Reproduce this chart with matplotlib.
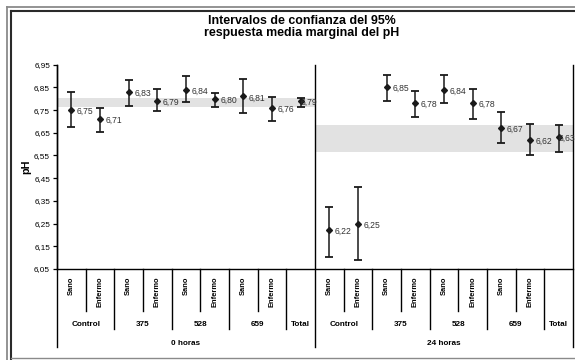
import matplotlib
matplotlib.use("Agg")
import matplotlib.pyplot as plt
from matplotlib.lines import Line2D
from matplotlib.transforms import blended_transform_factory

plt.rcParams['font.family'] = ['Liberation Sans', 'DejaVu Sans']

# data (means and 95% CI limits)
periods = ["0 horas", "24 horas"]
doses = ["Control", "375", "528", "659"]
states = ["Sano", "Enfermo"]

means_0h = [6.75, 6.71, 6.83, 6.79, 6.84, 6.80, 6.81, 6.76, 6.79]
lo_0h = [6.674, 6.655, 6.769, 6.746, 6.787, 6.765, 6.737, 6.703, 6.765]
hi_0h = [6.831, 6.761, 6.884, 6.843, 6.899, 6.827, 6.888, 6.806, 6.802]

means_24h = [6.22, 6.25, 6.85, 6.78, 6.84, 6.78, 6.67, 6.62, 6.63]
lo_24h = [6.104, 6.090, 6.790, 6.720, 6.781, 6.709, 6.604, 6.551, 6.565]
hi_24h = [6.323, 6.413, 6.906, 6.833, 6.906, 6.842, 6.743, 6.687, 6.684]

yticks = [6.05, 6.15, 6.25, 6.35, 6.45, 6.55, 6.65, 6.75, 6.85, 6.95]

W, H = 575, 360
fig = plt.figure(figsize=(W / 100, H / 100), dpi=100)

# axes box in pixels
x0, x1 = 57, 573
ytop, ybot = 64.7, 269
ax = fig.add_axes([x0 / W, (H - ybot) / H, (x1 - x0) / W, (ybot - ytop) / H])


def ay(py):
    # pixel row -> axes fraction
    return (ybot - py) / (ybot - ytop)


n_per = len(means_0h)
all_means = [means_0h, means_24h]
all_lo = [lo_0h, lo_24h]
all_hi = [hi_0h, hi_24h]

for p in range(2):
    xs = [p * n_per + i for i in range(n_per)]
    m, lo, hi = all_means[p], all_lo[p], all_hi[p]
    # reference band = CI of the Total
    ax.fill_between([p * n_per - 0.5, p * n_per + n_per - 0.5], lo[-1], hi[-1],
                    color='#e2e2e2', lw=0, zorder=1)
    yerr = [[mm - l for mm, l in zip(m, lo)], [h - mm for mm, h in zip(m, hi)]]
    ax.errorbar(xs, m, yerr=yerr, fmt='D', color='#1a1a1a', ms=3, lw=1.1,
                capsize=3.2, capthick=1.3, zorder=3)
    for i, (x, v) in enumerate(zip(xs, m)):
        dx = 0.3 if i == n_per - 1 else 4  # Total label sits tight against its point
        ax.annotate(f"{v:.2f}".replace('.', ','), (x, v), xytext=(dx, -1),
                    textcoords='offset points', ha='left', va='center',
                    fontsize=6.2, color='#333333', zorder=4, annotation_clip=False)

ax.set_xlim(-0.5, 2 * n_per - 0.5)
ax.set_ylim(6.05, 6.95)
ax.set_yticks(yticks)
ax.set_yticklabels([f"{t:.2f}".replace('.', ',') for t in yticks], fontsize=5.9)
ax.tick_params(axis='y', direction='out', length=3, width=0.9, pad=2)
ax.set_xticks([])
ax.set_ylabel("pH", fontsize=7.8, fontweight='bold')
ax.yaxis.set_label_coords((31.5 - x0) / (x1 - x0), 0.5)
ax.spines['top'].set_visible(False)
ax.spines['right'].set_visible(False)
ax.spines['left'].set_linewidth(1)
ax.spines['bottom'].set_linewidth(1)

tr = blended_transform_factory(ax.transData, ax.transAxes)


def vline(x, ya, yb, lw=1.0):
    ax.add_line(Line2D([x, x], [ya, yb], transform=tr, color='black', lw=lw, clip_on=False))


# full-height dividers: left axis, period divider, right edge
for xb in [-0.5, n_per - 0.5, 2 * n_per - 0.5]:
    vline(xb, 1.0, ay(347.3))

# category axis labels
for p in range(2):
    base = p * n_per
    for g, dose in enumerate(doses):
        for k, st in enumerate(states):
            x = base + 2 * g + k
            ax.text(x, ay(276.5), st, transform=tr, rotation=90, ha='center', va='top',
                    fontsize=5.4, fontweight='bold')
        vline(base + 2 * g + 0.5, 0, ay(310.7))
        if g > 0:
            vline(base + 2 * g - 0.5, 0, ay(329.3))
        ax.text(base + 2 * g + 0.5, ay(325), dose, transform=tr, ha='center', va='center',
                fontsize=5.9, fontweight='bold')
    vline(base + 7.5, 0, ay(329.3))
    ax.text(base + 8, ay(325), "Total", transform=tr, ha='center', va='center',
            fontsize=5.9, fontweight='bold')
    ax.text(base + 4, ay(343.3), periods[p], transform=tr, ha='center', va='center',
            fontsize=5.9, fontweight='bold')

fig.text(302 / W, 1 - 27 / H, "Intervalos de confianza del 95%\nrespuesta media marginal del pH",
         ha='center', va='center', fontsize=8.9, fontweight='bold', linespacing=1.1)

# double frame around the chart
def fline(xa, ya, xb, yb, color, lw):
    fig.add_artist(Line2D([xa / W, xb / W], [1 - ya / H, 1 - yb / H], color=color, lw=lw))


fline(6.5, 6.5, W, 6.5, '#8a8a8a', 1.3)
fline(6.5, 6.5, 6.5, H, '#8a8a8a', 1.3)
fline(10.5, 10.5, W, 10.5, '#2a2a2a', 1.5)
fline(10.5, 10.5, 10.5, H, '#2a2a2a', 1.5)
fline(10.5, 357.5, W, 357.5, '#8a8a8a', 1.0)

fig.savefig("out.png", dpi=100)
